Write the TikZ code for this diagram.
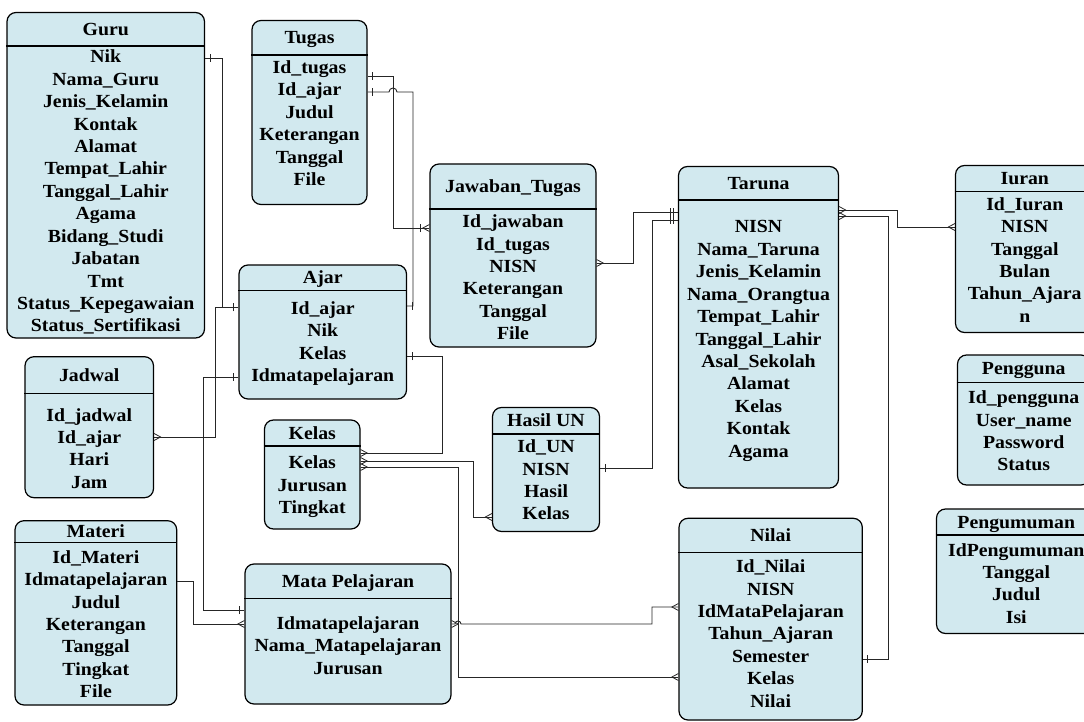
\documentclass[tikz,border=0pt]{standalone}
\usepackage{fontspec}
\setmainfont{Liberation Serif}[FakeStretch=1.07]
\usetikzlibrary{decorations.markings,calc}
\definecolor{entfill}{RGB}{210,233,239}

\tikzset{
  entbox/.style={draw=black, line width=1.2pt, fill=entfill, rounded corners=9pt, inner sep=0pt},
  enttext/.style={font={\fontsize{18.5}{22}\selectfont\bfseries}, inner sep=0pt, anchor=base},
  conn/.style={line width=0.9pt, draw=black!85},
  one start/.style={postaction={decorate, decoration={markings,
      mark=at position 5pt with {\draw[line width=0.9pt] (0pt,-4pt) -- (0pt,4pt);}}}},
  one end/.style={postaction={decorate, decoration={markings,
      mark=at position -5pt with {\draw[line width=0.9pt] (0pt,-4pt) -- (0pt,4pt);}}}},
  two end/.style={postaction={decorate, decoration={markings,
      mark=at position -4pt with {\draw[line width=0.9pt] (0pt,-4pt) -- (0pt,4pt);},
      mark=at position -7pt with {\draw[line width=0.9pt] (0pt,-4pt) -- (0pt,4pt);}}}},
  crow start/.style={postaction={decorate, decoration={markings,
      mark=at position 0.5pt with {\draw[line width=0.8pt] (-0.5pt,3.5pt) -- (6pt,0pt) -- (-0.5pt,-3.5pt);}}}},
  crow end/.style={postaction={decorate, decoration={markings,
      mark=at position -0.5pt with {\draw[line width=0.8pt] (0.5pt,3.5pt) -- (-6pt,0pt) -- (0.5pt,-3.5pt);}}}},
  onecrow end/.style={crow end, postaction={decorate, decoration={markings,
      mark=at position -9pt with {\draw[line width=0.9pt] (0pt,-4pt) -- (0pt,4pt);}}}},
}

% entity: name, x1, y1, x2, y2, header line y, title, first row y, rows
\newcommand\entity[9]{%
  \node[entbox, minimum width={(#4-#2)*1pt}, minimum height={(#5-#3)*1pt}] (#1)
    at ({(#2+#4)/2},{(#3+#5)/2}) {};
  \draw[line width=1.2pt] (#1.west |- 0,#6) -- (#1.east |- 0,#6);
  \node[enttext] (#1-title) at ({(#2+#4)/2},{(#3+#6)/2+6}) {#7};
  \foreach \rowtxt [count=\idx from 0] in {#9}
    {\node[enttext] (#1-\idx) at ({(#2+#4)/2},{#8+22.4*\idx+6}) {\rowtxt};}%
}

\begin{document}
\begin{tikzpicture}[x=1pt,y=-1pt]
\useasboundingbox (0,0) rectangle (1084,722);
\fill[white] (0,0) rectangle (1084,722);

\entity{guru}{7}{12.5}{204.5}{338}{46}{Guru}{57}{Nik,Nama\_Guru,Jenis\_Kelamin,Kontak,Alamat,Tempat\_Lahir,Tanggal\_Lahir,Agama,Bidang\_Studi,Jabatan,Tmt,Status\_Kepegawaian,Status\_Sertifikasi}
\entity{tugas}{252}{20.5}{367}{204.5}{55}{Tugas}{67.5}{Id\_tugas,Id\_ajar,Judul,Keterangan,Tanggal,File}
\entity{jawaban}{430}{164}{596}{347}{209}{Jawaban\_Tugas}{221.7}{Id\_jawaban,Id\_tugas,NISN,Keterangan,Tanggal,File}
\entity{taruna}{678.5}{166.5}{838.5}{488}{200}{Taruna}{227}{NISN,Nama\_Taruna,Jenis\_Kelamin,Nama\_Orangtua,Tempat\_Lahir,Tanggal\_Lahir,Asal\_Sekolah,Alamat,Kelas,Kontak,Agama}
\entity{iuran}{955.5}{165.5}{1094}{332.5}{191.5}{Iuran}{204.3}{Id\_Iuran,NISN,Tanggal,Bulan,Tahun\_Ajara,n}
\entity{pengguna}{957.5}{355}{1090}{485}{382.5}{Pengguna}{397.7}{Id\_pengguna,User\_name,Password,Status}
\entity{pengumuman}{936.5}{509}{1096}{633.5}{535}{Pengumuman}{550}{IdPengumuman,Tanggal,Judul,Isi}
\entity{ajar}{239}{265}{406.5}{399}{290.7}{Ajar}{308.3}{Id\_ajar,Nik,Kelas,Idmatapelajaran}
\entity{jadwal}{25}{356.7}{153.5}{497.7}{393.3}{Jadwal}{415}{Id\_jadwal,Id\_ajar,Hari,Jam}
\entity{kelas}{264.5}{420}{360}{529}{446}{Kelas}{462.7}{Kelas,Jurusan,Tingkat}
\entity{hasil}{492.5}{407.5}{599.5}{531.5}{434}{Hasil UN}{446.7}{Id\_UN,NISN,Hasil,Kelas}
\entity{materi}{15}{520.7}{176.7}{705}{542.7}{Materi}{557.3}{Id\_Materi,Idmatapelajaran,Judul,Keterangan,Tanggal,Tingkat,File}
\entity{mapel}{245}{564}{451}{704}{598.7}{Mata Pelajaran}{623.3}{Idmatapelajaran,Nama\_Matapelajaran,Jurusan}
\entity{nilai}{679}{518.3}{862.3}{720}{552.7}{Nilai}{566.7}{Id\_Nilai,NISN,IdMataPelajaran,Tahun\_Ajaran,Semester,Kelas,Nilai}

% relations
\draw[conn, one start, one end] (guru.east |- 0,58) -- (222,58) -- (222,307) -- (ajar.west |- 0,307);
\draw[conn, crow start, one end] (jadwal.east |- 0,437) -- (215,437) -- (215,307) -- (ajar.west |- 0,307);
\draw[conn, one start, one end] (ajar.west |- 0,377) -- (203,377) -- (203,610) -- (mapel.west |- 0,610);
\draw[conn, one start, onecrow end] (tugas.east |- 0,76) -- (393,76) -- (393,228) -- (jawaban.west |- 0,228);
\draw[conn, one start, one end] (tugas.east |- 0,92) -- (389,92)
  arc[start angle=180, end angle=0, radius=4pt] -- (413,92) -- (413,306) -- (ajar.east |- 0,306);
\draw[conn, crow start, two end] (jawaban.east |- 0,263) -- (633,263) -- (633,212) -- (taruna.west |- 0,212);
\draw[conn, one start, two end] (hasil.east |- 0,468) -- (652,468) -- (652,220) -- (taruna.west |- 0,220);
\draw[conn, crow start, crow end] (taruna.east |- 0,210) -- (897,210) -- (897,227) -- (iuran.west |- 0,227);
\draw[conn, crow start, one end] (taruna.east |- 0,216) -- (888,216) -- (888,659) -- (nilai.east |- 0,659);
\draw[conn, one start, crow end] (ajar.east |- 0,356) -- (442,356) -- (442,453) -- (kelas.east |- 0,453);
\draw[conn, crow start, crow end] (kelas.east |- 0,461) -- (473,461) -- (473,517) -- (hasil.west |- 0,517);
\draw[conn, crow start, crow end] (kelas.east |- 0,467) -- (458,467) -- (458,677) -- (nilai.west |- 0,677);
\draw[conn, crow start, crow end] (mapel.east |- 0,624) -- (455,624)
  arc[start angle=180, end angle=0, radius=3pt] -- (652,624) -- (652,607) -- (nilai.west |- 0,607);
\draw[conn, crow end] (materi.east |- 0,581) -- (193,581) -- (193,624) -- (mapel.west |- 0,624);
\end{tikzpicture}
\end{document}
